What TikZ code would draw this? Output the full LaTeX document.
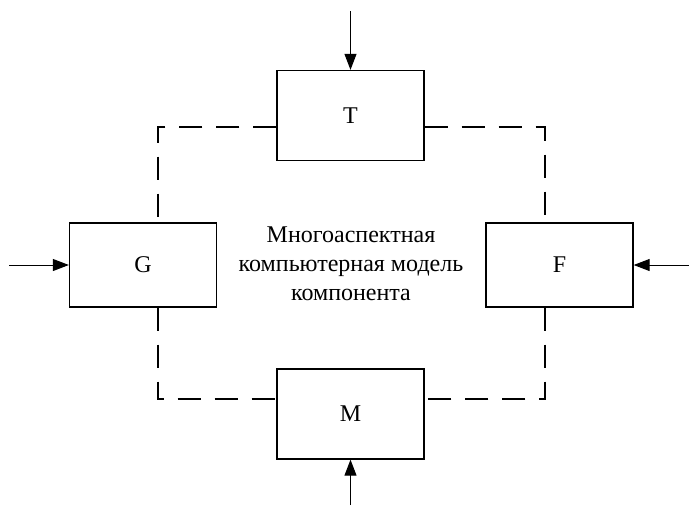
\documentclass[tikz,border=0pt]{standalone}
\usepackage{fontspec}
\setmainfont{Liberation Serif}
\usetikzlibrary{arrows.meta}
\begin{document}
\begin{tikzpicture}[x=1pt,y=-1pt,
  block/.style={draw,line width=1.3pt,minimum width=147pt,inner sep=0pt,font=\fontsize{24}{28}\selectfont},
  link/.style={line width=1.3pt,dash pattern=on 23pt off 14pt},
  feed/.style={line width=1pt,-{Triangle[length=16pt,width=12pt]}}]
\useasboundingbox (0,0) rectangle (689,515);
% the four aspect blocks
\node[block,minimum height=90pt] (T) at (350.5,115.5) {T};
\node[block,minimum height=84pt] (G) at (143,265) {G};
\node[block,minimum height=84pt] (F) at (559.5,265) {F};
\node[block,minimum height=90pt] (M) at (350.5,414) {M};
% central caption
\node[align=center,font=\fontsize{24}{29}\selectfont] (cap) at (351,264) {Многоаспектная\\компьютерная модель\\компонента};
% dashed couplings around the ring
\coordinate (tl) at (158,127);
\coordinate (tr) at (545,127);
\coordinate (bl) at (158,399);
\coordinate (br) at (545,399);
\draw[link] (T.west |- tl) -- (tl) -- (G.north -| tl);
\draw[link] (T.east |- tr) -- (tr) -- (F.north -| tr);
\draw[link] (G.south -| bl) -- (bl) -- (M.west |- bl);
\draw[link] (F.south -| br) -- (br) -- (M.east |- br);
% external inputs
\coordinate (inT) at (350.5,11);
\coordinate (inG) at (9,265);
\coordinate (inF) at (689,265);
\coordinate (inM) at (350.5,505);
\draw[feed] (inT) -- (T.north);
\draw[feed] (inG) -- (G.west);
\draw[feed] (inF) -- (F.east);
\draw[feed] (inM) -- (M.south);
\end{tikzpicture}
\end{document}
